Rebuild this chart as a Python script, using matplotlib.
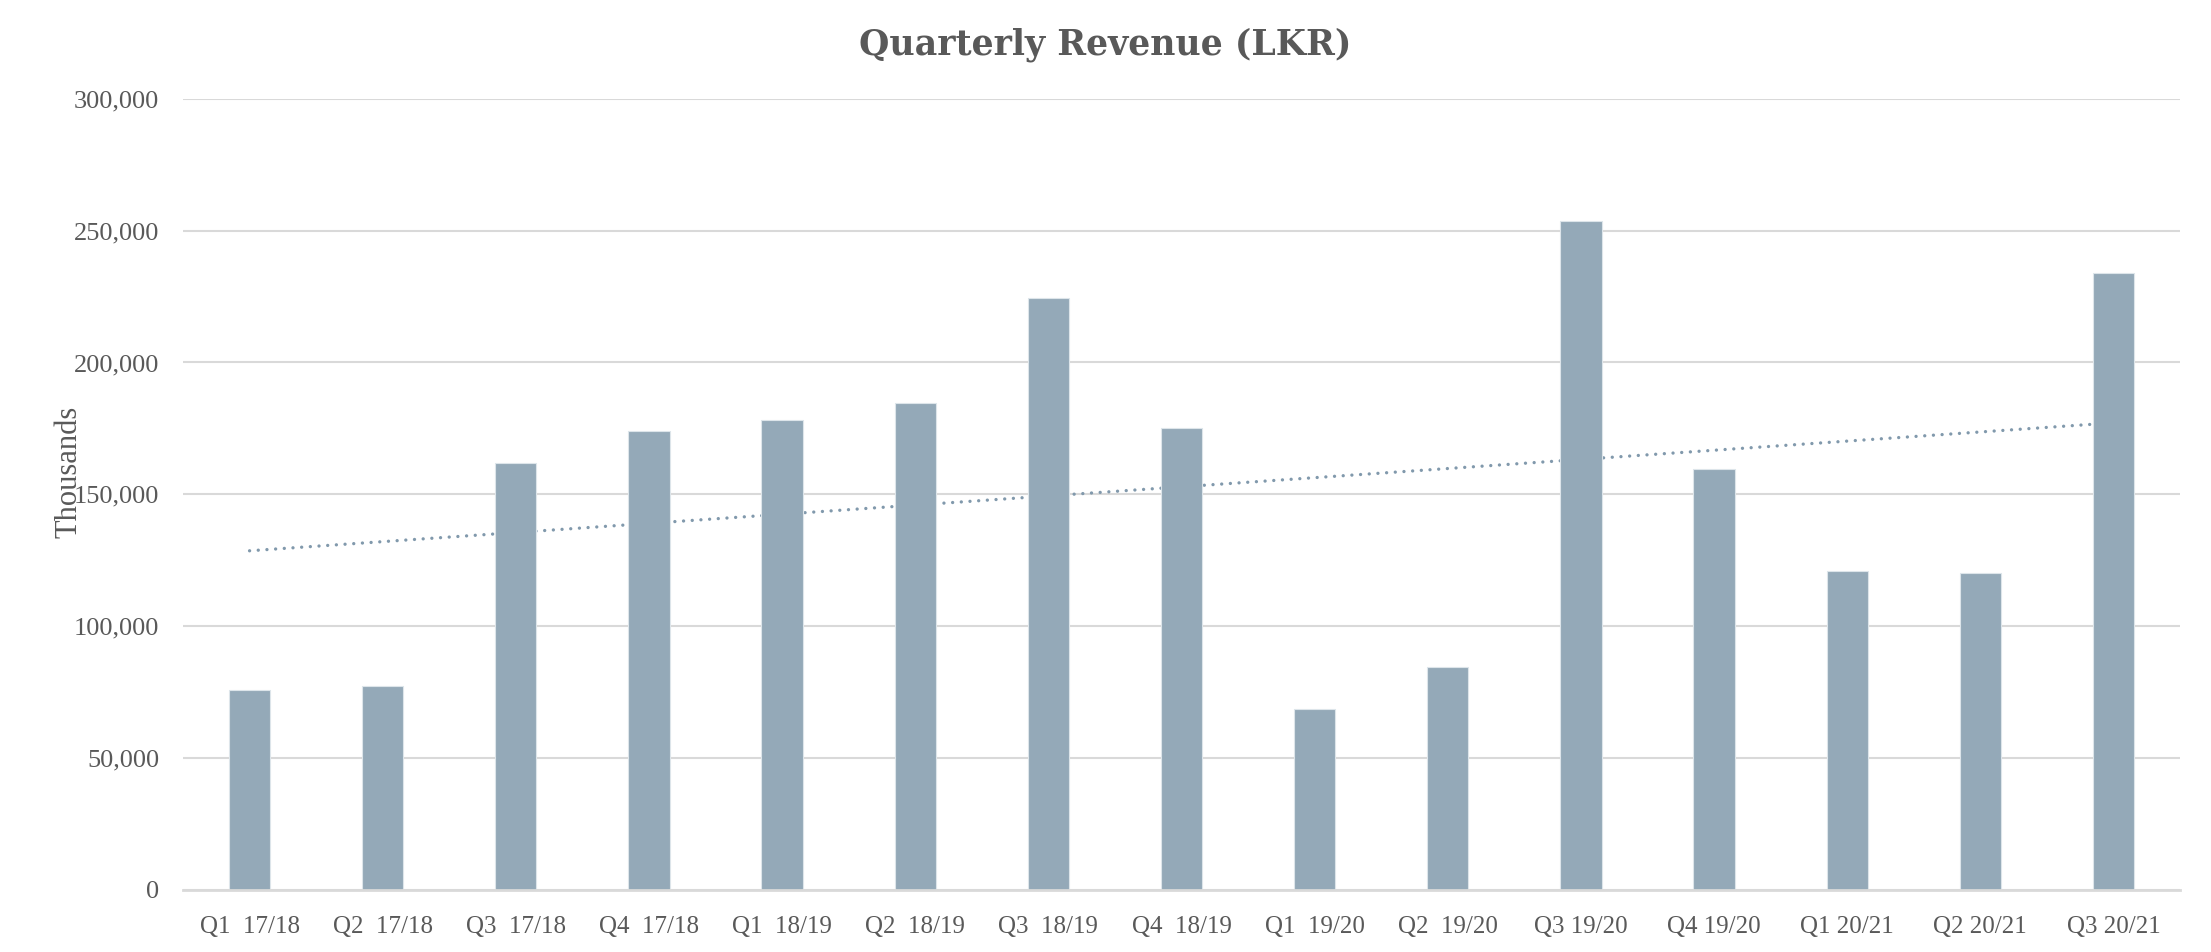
import matplotlib
matplotlib.use("Agg")
import matplotlib.pyplot as plt
import numpy as np
from matplotlib.ticker import FuncFormatter

categories = ["Q1  17/18", "Q2  17/18", "Q3  17/18", "Q4  17/18",
              "Q1  18/19", "Q2  18/19", "Q3  18/19", "Q4  18/19",
              "Q1  19/20", "Q2  19/20", "Q3 19/20", "Q4 19/20",
              "Q1 20/21", "Q2 20/21", "Q3 20/21"]
revenue = [76000, 77500, 162000, 174000, 178000, 184500, 224600, 175000,
           68500, 84500, 253500, 159500, 121000, 120300, 234000]
yticks = [0, 50000, 100000, 150000, 200000, 250000, 300000]

TEXT = "#595959"
BAR = "#94A9B8"
GRID = "#D9D9D9"
FONT = ["Liberation Serif", "DejaVu Serif"]

plt.rcParams["font.family"] = FONT

fig = plt.figure(figsize=(22.11, 9.52), dpi=100)
ax = fig.add_axes([183/2211, 1-890/952, (2180-183)/2211, (890-98.7)/952])

x = np.arange(len(categories))
ax.bar(x, revenue, width=0.31, color=BAR, edgecolor="#DDE5EA", linewidth=0.8, zorder=3)

# linear trendline
coef = np.polyfit(x, revenue, 1)
ax.plot(x, np.polyval(coef, x), linestyle=(0, (0.01, 2.6)), dash_capstyle="round",
        color="#8199AC", linewidth=2.4, zorder=2)

ax.set_xlim(-0.5, len(categories) - 0.5)
ax.set_ylim(0, 300000)
ax.set_yticks(yticks)
ax.yaxis.set_major_formatter(FuncFormatter(lambda v, p: f"{int(v):,}"))
ax.set_xticks(x)
ax.set_xticklabels(categories)
ax.tick_params(axis="both", length=0, colors=TEXT, labelsize=19)
ax.tick_params(axis="x", labelsize=18, pad=19)
ax.tick_params(axis="y", pad=17)
ax.grid(axis="y", color=GRID, linewidth=1.5, zorder=0)
ax.set_axisbelow(True)
for s in ["top", "right", "left"]:
    ax.spines[s].set_visible(False)
ax.spines["bottom"].set_color(GRID)
ax.spines["bottom"].set_linewidth(2)
ax.spines["bottom"].set_zorder(4)

fig.text(69/2211, 1-472/952, "Thousands", rotation=90, ha="center", va="center",
         color=TEXT, fontsize=22)
fig.text(0.5, 1-45/952, "Quarterly Revenue (LKR)", ha="center", va="center",
         color=TEXT, fontsize=25, fontweight="bold", family=["DejaVu Serif"])

fig.savefig("out.png", dpi=100, facecolor="white")
